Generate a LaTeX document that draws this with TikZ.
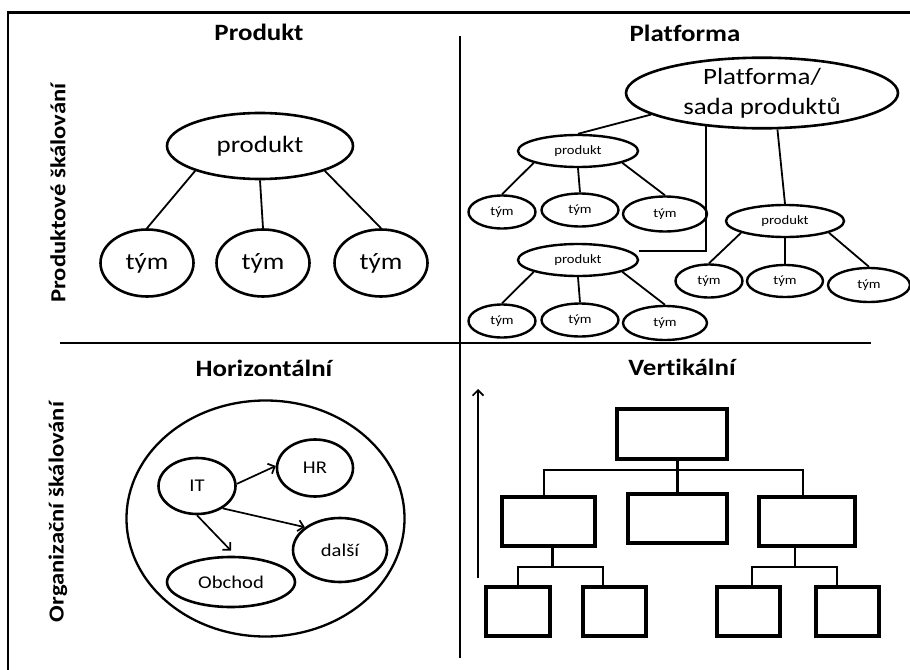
\documentclass[tikz,border=0pt]{standalone}
\usepackage{fontspec}
\setmainfont{Carlito}[FakeStretch=1.15, Ligatures=NoCommon]
\usetikzlibrary{shapes.geometric,arrows.meta}
\begin{document}
\begin{tikzpicture}[x=1bp,y=-1bp,
  oval/.style={draw, ellipse, line width=2.6bp, inner sep=0pt},
  smalloval/.style={oval, line width=2.4bp, font=\fontsize{12.8}{14}\selectfont},
  link/.style={line width=1.8bp},
  arr/.style={line width=1.7bp, -{Straight Barb[length=5.5bp,width=11bp,line width=1.7bp]}},
  orgbox/.style={draw, rectangle, line width=3.2bp, inner sep=0pt},
  tree/.style={line width=2.1bp},
  title/.style={font=\fontsize{23.5}{26}\selectfont\bfseries},
  sidelabel/.style={rotate=90, font=\fontsize{21.5}{24}\selectfont\bfseries},
  bigtext/.style={font=\fontsize{23.5}{30}\selectfont},
  midtext/.style={font=\fontsize{18}{21}\selectfont},
  frameline/.style={line width=2.4bp}
]
\useasboundingbox (0,0) rectangle (910,670);

% outer frame and quadrant dividers
\draw[frameline] (8,670) -- (8,12.5) -- (910,12.5);
\draw[frameline] (460,36) -- (460,658);
\draw[frameline] (60,343) -- (871,343);

% quadrant titles
\node[title] (tProdukt) at (259,32) {Produkt};
\node[title] (tPlatforma) at (685,33) {Platforma};
\node[title] (tHoriz) at (264,368) {Horizontální};
\node[title] (tVert) at (682,367) {Vertikální};

% side labels
\node[sidelabel] (sProd) at (58,193) {Produktové škálování};
\node[sidelabel] (sOrg) at (58,512) {Organizační škálování};

% --- product: one product, three teams
\node[oval, bigtext, minimum width=186bp, minimum height=66bp] (p0) at (260,146) {produkt};
\node[oval, bigtext, minimum width=93bp, minimum height=67bp] (t01) at (147,263) {tým};
\node[oval, bigtext, minimum width=93bp, minimum height=67bp] (t02) at (263,263) {tým};
\node[oval, bigtext, minimum width=93bp, minimum height=67bp] (t03) at (381,263) {tým};
\draw[link] (p0.201) -- (t01.north);
\draw[link] (p0.south) -- (t02.north);
\draw[link] (p0.339) -- (t03.north);

% --- platform: product suite with three products
\node[oval, bigtext, align=center, minimum width=272bp, minimum height=66bp] (suite) at (762,93) {Platforma/\\sada produktů};

\node[smalloval, minimum width=120bp, minimum height=32bp] (pA) at (578,151) {produkt};
\node[smalloval, minimum width=120bp, minimum height=32bp] (pB) at (578,260) {produkt};
\node[smalloval, minimum width=118bp, minimum height=32bp] (pC) at (785,221) {produkt};

\node[smalloval, minimum width=67bp, minimum height=33bp] (tA1) at (502,212) {tým};
\node[smalloval, minimum width=77bp, minimum height=33bp] (tA2) at (580,210) {tým};
\node[smalloval, minimum width=84bp, minimum height=35bp] (tA3) at (665,214) {tým};

\node[smalloval, minimum width=67bp, minimum height=33bp] (tB1) at (502,321) {tým};
\node[smalloval, minimum width=77bp, minimum height=33bp] (tB2) at (580,320) {tým};
\node[smalloval, minimum width=84bp, minimum height=34bp] (tB3) at (665,323) {tým};

\node[smalloval, minimum width=67bp, minimum height=33bp] (tC1) at (709,281) {tým};
\node[smalloval, minimum width=76bp, minimum height=32bp] (tC2) at (785,281) {tým};
\node[smalloval, minimum width=82bp, minimum height=34bp] (tC3) at (869,285) {tým};

\draw[link] (suite.191) -- (pA.north);
\draw[link] (suite.293) -- (pC.north);
\draw[link] (suite.211.5) |- ([yshift=9bp]pB.east);

\draw[link] (pA.195) -- (tA1.north);
\draw[link] (pA.south) -- (tA2.north);
\draw[link] (pA.345) -- (tA3.north);

\draw[link] (pB.195) -- (tB1.north);
\draw[link] (pB.south) -- (tB2.north);
\draw[link] (pB.345) -- (tB3.north);

\draw[link] (pC.195) -- (tC1.north);
\draw[link] (pC.south) -- (tC2.north);
\draw[link] (pC.345) -- (tC3.north);

% --- horizontal: departments inside one organisation
\node[oval, line width=2.3bp, minimum width=278bp, minimum height=236bp] (org) at (265.5,518.5) {};
\node[oval, midtext, minimum width=77bp, minimum height=56bp] (it) at (197,486) {IT};
\node[oval, midtext, minimum width=76bp, minimum height=57bp] (hr) at (315,468) {HR};
\node[oval, midtext, minimum width=94bp, minimum height=64bp] (dalsi) at (340,550) {další};
\node[oval, midtext, minimum width=128bp, minimum height=50bp] (obchod) at (231,582) {Obchod};

\draw[arr] (it.3) -- (hr.177);
\draw[arr] (it.319) -- (dalsi.147);
\draw[arr] (it.south) -- ([yshift=5bp]obchod.north);

% --- vertical: hierarchy levels
\coordinate (lvlLow) at (478,578);
\coordinate (lvlHigh) at (478,389);
\draw[arr] (lvlLow) -- (lvlHigh);

\node[orgbox, minimum width=110bp, minimum height=50bp] (top) at (672,434) {};
\node[orgbox, minimum width=93bp, minimum height=49bp] (midL) at (548.5,521.5) {};
\node[orgbox, minimum width=99bp, minimum height=49bp] (midM) at (677.5,518.5) {};
\node[orgbox, minimum width=96bp, minimum height=49bp] (midR) at (807,521.5) {};
\node[orgbox, minimum width=64bp, minimum height=49bp] (b1) at (518,611.5) {};
\node[orgbox, minimum width=63bp, minimum height=49bp] (b2) at (614.5,611.5) {};
\node[orgbox, minimum width=63bp, minimum height=49bp] (b3) at (748.5,611.5) {};
\node[orgbox, minimum width=63bp, minimum height=49bp] (b4) at (847.5,611.5) {};

\draw[tree] (midM.north) -- (midM.north |- top.south);
\draw[tree] ([xshift=-4.5bp]midL.north) -- ++(0,-25) -| ([xshift=-4bp]midR.north);

\draw[tree] ([xshift=4bp]midL.south) -- ++(0,19) coordinate (jL);
\draw[tree] (b1.north) |- (jL) -| ([xshift=-11.5bp]b2.north);

\draw[tree] ([xshift=-12bp]midR.south) -- ++(0,19) coordinate (jR);
\draw[tree] ([xshift=3.5bp]b3.north) |- (jR) -| ([xshift=-10.5bp]b4.north);
\end{tikzpicture}
\end{document}
